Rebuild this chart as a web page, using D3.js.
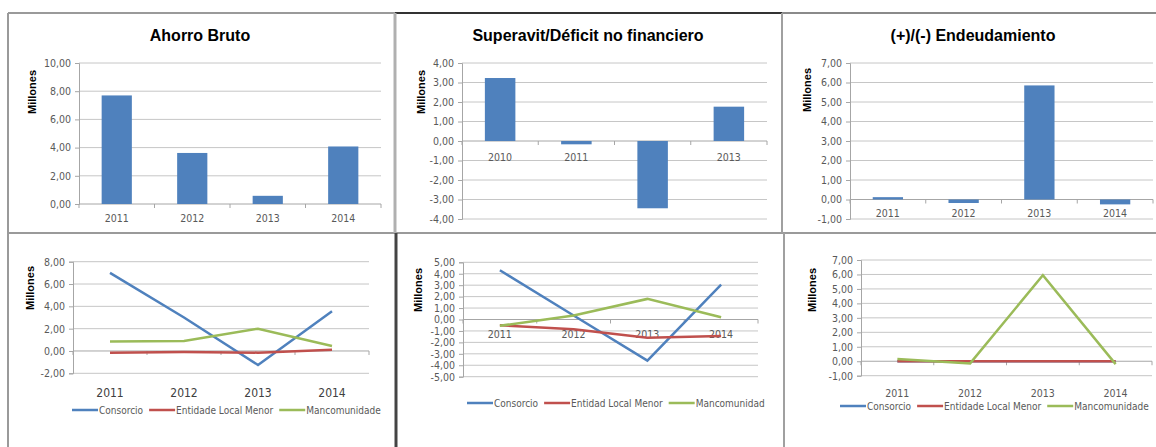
<!DOCTYPE html>
<html>
<head>
<meta charset="utf-8">
<script src="https://cdn.jsdelivr.net/npm/d3@7"></script>
<style>
  body { margin: 0; background: #fff; }
  text { font-family: "DejaVu Sans Condensed", "Liberation Sans Narrow", sans-serif; }
  .title, .ytitle { font-family: "Liberation Sans", Arial, sans-serif; font-weight: bold; fill: #000; }
</style>
</head>
<body>
<div id="chart"></div>
<script>
// categories
const yearsA = ["2011", "2012", "2013", "2014"];
const yearsB = ["2010", "2011", "2012", "2013"];

// bar series (millones)
const ahorroBruto = [7.7, 3.62, 0.58, 4.08];
const superavit = [3.23, -0.17, -3.45, 1.76];
const endeudamiento = [0.12, -0.18, 5.85, -0.25];

// y tick values
const ticksAhorro = [0, 2, 4, 6, 8, 10];
const ticksSuperavit = [-4, -3, -2, -1, 0, 1, 2, 3, 4];
const ticksEndeud = [-1, 0, 1, 2, 3, 4, 5, 6, 7];
const ticksAhorroLine = [-2, 0, 2, 4, 6, 8];
const ticksSuperLine = [-5, -4, -3, -2, -1, 0, 1, 2, 3, 4, 5];
const ticksEndLine = [-1, 0, 1, 2, 3, 4, 5, 6, 7];

// line series
const namesGal = ["Consorcio", "Entidade Local Menor", "Mancomunidade"];
const namesEs = ["Consorcio", "Entidad Local Menor", "Mancomunidad"];

const ahorroConsorcio = [7.0, 3.0, -1.25, 3.55];
const ahorroEntidad = [-0.15, -0.1, -0.15, 0.1];
const ahorroManc = [0.85, 0.9, 2.0, 0.45];

const superConsorcio = [4.3, 0.35, -3.6, 3.05];
const superEntidad = [-0.5, -0.85, -1.6, -1.45];
const superManc = [-0.55, 0.35, 1.8, 0.2];

const endConsorcio = [0, 0, 0, 0];
const endEntidad = [0, 0, 0, 0];
const endManc = [0.15, -0.15, 5.95, -0.2];

const lineColors = ["#4F81BD", "#C0504D", "#9BBB59"];
const barColor = "#4F81BD";

const W = 1156, H = 447;
const svg = d3.select("#chart").append("svg")
  .attr("width", W).attr("height", H);

const fmt = d3.formatLocale({ decimal: ",", thousands: ".", grouping: [3], currency: ["", "€"], minus: "-" }).format(".2f");

// panel frames
const frame = svg.append("g");
function seg(x1, y1, x2, y2, col, w) {
  frame.append("line").attr("x1", x1).attr("y1", y1).attr("x2", x2).attr("y2", y2)
    .attr("stroke", col).attr("stroke-width", w);
}
seg(8, 13, 395, 13, "#9a9a9a", 2);
seg(395, 13, 782, 13, "#333", 2);
seg(782, 13, W, 13, "#8a8a8a", 2);
seg(8, 233, W, 233, "#9a9a9a", 2);
seg(8, 13, 8, H, "#9a9a9a", 2);
seg(395, 13, 395, 233, "#b0b0b0", 3);
seg(396, 233, 396, H, "#444", 3);
seg(782, 13, 782, 233, "#a0a0a0", 2);
seg(784, 233, 784, H, "#a0a0a0", 2);

function panel(cfg, ticks, cats) {
  const g = svg.append("g");
  const x = d3.scaleBand().domain(cats).range([cfg.x0, cfg.x1]);
  const y = d3.scaleLinear().domain([ticks[0], ticks[ticks.length - 1]]).range([cfg.y0, cfg.y1]);

  g.append("g").selectAll("line").data(ticks.filter(d => d !== 0)).join("line")
    .attr("x1", cfg.x0).attr("x2", cfg.x1)
    .attr("y1", d => y(d)).attr("y2", d => y(d))
    .attr("stroke", "#c6c6c6").attr("stroke-width", 1);

  const ya = g.append("g").attr("transform", `translate(${cfg.x0},0)`)
    .call(d3.axisLeft(y).tickValues(ticks).tickFormat(fmt).tickSize(4).tickPadding(4));
  ya.select(".domain").attr("stroke", "#a6a6a6");
  ya.selectAll(".tick line").attr("stroke", "#a6a6a6");
  ya.selectAll("text").attr("fill", "#595959").style("font-size", "10.5px")
    .style("font-family", "'DejaVu Sans Condensed', sans-serif");

  // category axis at zero
  const y0 = y(0);
  g.append("line").attr("x1", cfg.x0).attr("x2", cfg.x1).attr("y1", y0).attr("y2", y0)
    .attr("stroke", "#a6a6a6");
  g.append("g").selectAll("line").data(d3.range(cats.length + 1)).join("line")
    .attr("x1", i => cfg.x0 + i * x.step()).attr("x2", i => cfg.x0 + i * x.step())
    .attr("y1", y0).attr("y2", y0 + 4).attr("stroke", "#a6a6a6");

  g.append("g").selectAll("text").data(cats).join("text")
    .attr("x", d => x(d) + x.bandwidth() / 2)
    .attr("y", cfg.labelY)
    .attr("text-anchor", "middle")
    .attr("fill", cfg.labelColor || "#595959")
    .style("font-size", (cfg.labelSize || 10.5) + "px")
    .text(d => d);

  if (cfg.title) {
    g.append("text").attr("class", "title")
      .attr("x", cfg.titleX).attr("y", 41)
      .attr("text-anchor", "middle").style("font-size", "16px")
      .text(cfg.title);
  }
  g.append("text").attr("class", "ytitle")
    .attr("transform", `translate(${cfg.ytX},${cfg.ytY}) rotate(-90)`)
    .attr("text-anchor", "middle").style("font-size", "11px")
    .text("Millones");

  return { g, x, y };
}

function barPanel(cfg, ticks, cats, values) {
  const { g, x, y } = panel(cfg, ticks, cats);
  const bw = x.bandwidth() * 0.4;
  g.append("g").selectAll("rect").data(values).join("rect")
    .attr("x", (d, i) => x(cats[i]) + (x.bandwidth() - bw) / 2)
    .attr("width", bw)
    .attr("y", d => y(Math.max(0, d)))
    .attr("height", d => Math.abs(y(d) - y(0)))
    .attr("fill", barColor);
}

function linePanel(cfg, ticks, cats, seriesList, names) {
  const { g, x, y } = panel(cfg, ticks, cats);
  const line = d3.line()
    .x((d, i) => x(cats[i]) + x.bandwidth() / 2)
    .y(d => y(d));
  seriesList.forEach((s, k) => {
    g.append("path").datum(s)
      .attr("d", line)
      .attr("fill", "none")
      .attr("stroke", lineColors[k])
      .attr("stroke-width", 2.5);
  });
  // legend
  let lx = cfg.legX;
  names.forEach((n, k) => {
    g.append("line").attr("x1", lx).attr("x2", lx + 26)
      .attr("y1", cfg.legY).attr("y2", cfg.legY)
      .attr("stroke", lineColors[k]).attr("stroke-width", 2.5);
    const t = g.append("text").attr("x", lx + 27).attr("y", cfg.legY + 4)
      .attr("fill", "#595959").style("font-size", "10px").text(n);
    lx += 27 + t.node().getComputedTextLength() + 6;
  });
}

barPanel({ x0: 79, x1: 381, y0: 204, y1: 63, labelY: 222, title: "Ahorro Bruto", titleX: 200, ytX: 36, ytY: 92 },
  ticksAhorro, yearsA, ahorroBruto);
barPanel({ x0: 462, x1: 767, y0: 219, y1: 63, labelY: 161, title: "Superavit/Déficit no financiero", titleX: 588, ytX: 425, ytY: 92 },
  ticksSuperavit, yearsB, superavit);
barPanel({ x0: 850, x1: 1153, y0: 219, y1: 63, labelY: 217, title: "(+)/(-) Endeudamiento", titleX: 973, ytX: 811, ytY: 90 },
  ticksEndeud, yearsA, endeudamiento);

linePanel({ x0: 73, x1: 369, y0: 373.3, y1: 261.7, labelY: 397, labelSize: 12, labelColor: "#404040", ytX: 34, ytY: 288, legX: 72, legY: 410 },
  ticksAhorroLine, yearsA, [ahorroConsorcio, ahorroEntidad, ahorroManc], namesGal);
linePanel({ x0: 463, x1: 758, y0: 376.7, y1: 262.3, labelY: 338, ytX: 422, ytY: 290, legX: 467, legY: 403 },
  ticksSuperLine, yearsA, [superConsorcio, superEntidad, superManc], namesEs);
linePanel({ x0: 861, x1: 1152, y0: 375.7, y1: 260, labelY: 397, ytX: 816, ytY: 290, legX: 840, legY: 406 },
  ticksEndLine, yearsA, [endConsorcio, endEntidad, endManc], namesGal);
</script>
</body>
</html>
